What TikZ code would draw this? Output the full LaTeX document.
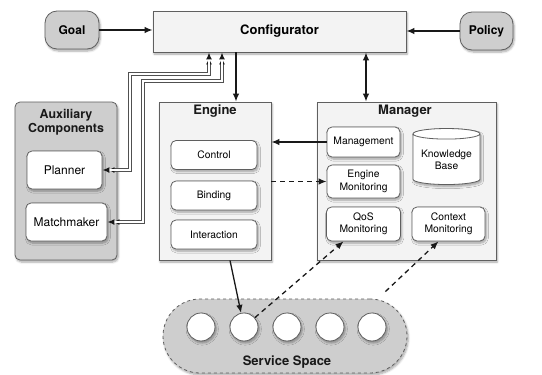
\documentclass[tikz,border=0pt]{standalone}
\usepackage{fontspec}
\setmainfont{TeX Gyre Heros}
\usetikzlibrary{arrows.meta,shapes.geometric,shadows.blur}

\begin{document}
\begin{tikzpicture}[x=1pt,y=-1pt,
  hd/.tip={Latex[length=8pt,width=6.5pt]},
  sm/.tip={Latex[length=7pt,width=6pt,color=ink]},
  soft/.style={blur shadow={shadow xshift=1.2pt,shadow yshift=-2pt,shadow blur steps=6,shadow opacity=35}},
  ext/.style={draw=edge, fill=tone, line width=0.8pt, rounded corners=12pt, font=\bfseries\fontsize{12}{14}\selectfont, soft},
  panel/.style={draw=edge, fill=pale, line width=0.8pt, soft},
  part/.style={draw=edge, fill=white, line width=0.8pt, rounded corners=5pt, align=center, inner sep=1pt, font=\fontsize{10.3}{12.5}\selectfont, soft},
  title/.style={ink, align=center, font=\bfseries\fontsize{13}{14.5}\selectfont},
  svc/.style={circle, draw=edge, fill=white, line width=0.8pt, minimum size=28pt, inner sep=0pt, soft},
  flow/.style={ink, line width=1.3pt, -hd},
  watch/.style={flow, dash pattern=on 5pt off 4pt},
  link/.style={draw=white, line width=1.5pt, sm-sm, preaction={draw=wire, line width=3.7pt, shorten <=5pt, shorten >=5pt}}]
  \definecolor{ink}{RGB}{25,25,25}
  \definecolor{edge}{RGB}{95,95,95}
  \definecolor{wire}{RGB}{80,80,80}
  \definecolor{tone}{RGB}{206,206,206}
  \definecolor{pale}{RGB}{243,243,243}

  \useasboundingbox (0,0) rectangle (542,375);

  \node[ext, minimum width=54pt, minimum height=38pt] (goal) at (72,30) {Goal};
  \node[panel, minimum width=253pt, minimum height=41pt, font=\bfseries\fontsize{13}{15}\selectfont] (conf) at (279.5,31.5) {Configurator};
  \node[ext, minimum width=53pt, minimum height=38pt] (policy) at (486.5,31) {Policy};

  \node[panel, fill=tone, rounded corners=5pt, minimum width=102pt, minimum height=158pt] (aux) at (66,181) {};
  \node[title, font=\bfseries\fontsize{12.4}{14.5}\selectfont] (auxtitle) at (66,122) {Auxiliary\\Components};
  \node[part, font=\fontsize{12}{14}\selectfont, minimum width=75pt, minimum height=38pt] (planner) at (64.5,170) {Planner};
  \node[part, font=\fontsize{12}{14}\selectfont, minimum width=81pt, minimum height=38pt] (match) at (66.5,222) {Matchmaker};

  \node[panel, minimum width=112pt, minimum height=158pt] (engine) at (215,181) {};
  \node[title] (engtitle) at (215,111) {Engine};
  \foreach \name/\text/\y in {control/Control/155,binding/Binding/195.5,interact/Interaction/234.5}
    \node[part, minimum width=86pt, minimum height=29pt] (\name) at (214,\y) {\text};

  \node[panel, minimum width=179pt, minimum height=158pt] (manager) at (406.5,181) {};
  \node[title] (mantitle) at (405,111) {Manager};
  \node[part, minimum width=73pt, minimum height=30pt] (mgmt) at (363.5,142) {Management};
  \node[part, minimum width=73pt, minimum height=33pt] (engmon) at (363.5,181.5) {Engine\\Monitoring};
  \node[part, minimum width=74pt, minimum height=34pt] (qos) at (363.5,224) {QoS\\Monitoring};
  \node[part, minimum width=73pt, minimum height=34pt] (ctx) at (448.5,224) {Context\\Monitoring};
  \node[cylinder, shape border rotate=90, aspect=0.2, draw=edge, fill=white, line width=0.8pt,
    minimum width=67pt, minimum height=56pt, align=center, inner sep=1pt,
    font=\fontsize{10.3}{12.5}\selectfont, soft] (kb) at (446.5,160) {Knowledge\\Base};

  \node[panel, fill=tone, dashed, rounded corners=37pt, minimum width=244pt, minimum height=74pt] (space) at (285,336) {};
  \foreach \i/\x in {1/201,2/244,3/287,4/330,5/372}
    \node[svc] (s\i) at (\x,327) {};
  \node[title] (spacetitle) at (287,362) {Service Space};

  \coordinate (pbend) at (130,74);
  \coordinate (mbend) at (143,81);

  \draw[flow] (goal) -- (goal -| conf.west);
  \draw[flow] (policy) -- (policy -| conf.east);
  \draw[flow] ([xshift=21pt]engine.north |- conf.south) -- ([xshift=21pt]engine.north);
  \draw[flow, hd-hd] ([xshift=-40.5pt]manager.north |- conf.south) -- ([xshift=-40.5pt]manager.north);
  \draw[link] (planner.east) -| (pbend) -| ([xshift=-70.5pt]conf.south);
  \draw[link] (match.east) -| (mbend) -| ([xshift=-57.5pt]conf.south);
  \draw[flow] (mgmt.west) -- (mgmt.west -| engine.east);
  \draw[watch] (engine.east |- engmon.west) -- (engmon.west);
  \draw[flow] ([xshift=15pt]engine.south) -- (s2);
  \draw[watch] (s2) -- ([xshift=-20pt]qos.south);
  \draw[watch] ([shift={(-22,-7)}]space.north east) -- ([xshift=-10pt]ctx.south);
\end{tikzpicture}
\end{document}
